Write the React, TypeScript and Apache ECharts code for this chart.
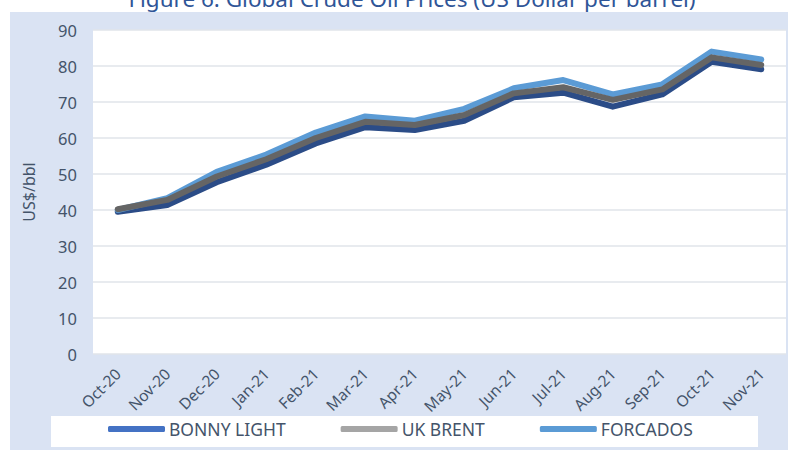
import React, { useEffect, useRef } from "react";
import * as echarts from "echarts";

const categories = ["Oct-20", "Nov-20", "Dec-20", "Jan-21", "Feb-21", "Mar-21", "Apr-21", "May-21", "Jun-21", "Jul-21", "Aug-21", "Sep-21", "Oct-21", "Nov-21"];
const bonnyLight = [39.5, 41.4, 47.7, 52.6, 58.5, 63.0, 62.2, 64.8, 71.3, 72.6, 68.7, 72.1, 81.2, 79.1];
const ukBrent = [40.2, 42.8, 49.3, 54.1, 60.0, 64.5, 63.6, 66.4, 72.4, 74.1, 70.6, 73.5, 82.4, 80.3];
const forcados = [40.0, 43.3, 50.6, 55.4, 61.5, 66.0, 64.8, 68.1, 73.8, 76.1, 72.1, 74.9, 84.0, 81.8];
const seriesNames = ["BONNY LIGHT", "UK BRENT", "FORCADOS"];
const yTicks = [0, 10, 20, 30, 40, 50, 60, 70, 80, 90];

const TXT = "#44546A";
const FONT = '"Noto Sans", sans-serif';

export default function App() {
  const ref = useRef<HTMLDivElement>(null);
  useEffect(() => {
    if (!ref.current) return;
    const chart = echarts.init(ref.current, null, { renderer: "svg" });
    const lineSeries = (name: string, data: number[], color: string, z: number) => ({
      name,
      type: "line",
      data,
      symbol: "none",
      z,
      lineStyle: { color, width: 6, cap: "round", join: "round" },
      itemStyle: { color },
    });
    chart.setOption({
      animation: false,
      graphic: [
        { type: "rect", z: -10, silent: true, shape: { x: 10, y: 12, width: 778, height: 438 }, style: { fill: "#DAE3F3" } },
        { type: "rect", z: -9, silent: true, shape: { x: 51, y: 416, width: 707, height: 31 }, style: { fill: "#FFFFFF" } },
        {
          type: "text",
          silent: true,
          style: {
            text: "Figure 6: Global Crude Oil Prices (US Dollar per barrel)",
            x: 412,
            y: 10,
            align: "center",
            verticalAlign: "bottom",
            font: '22.5px "Noto Sans", sans-serif',
            fill: "#2F5597",
          },
        },
      ],
      grid: {
        left: 93,
        right: 2,
        top: 30,
        bottom: 96,
        show: true,
        backgroundColor: "#FFFFFF",
        borderWidth: 0,
      },
      legend: {
        left: 108,
        top: 420,
        padding: 0,
        itemGap: 55,
        itemWidth: 57,
        itemHeight: 6,
        icon: "roundRect",
        textStyle: { color: TXT, fontSize: 17.5, fontFamily: FONT, padding: [0, 0, 0, -1] },
        data: [
          { name: seriesNames[0], itemStyle: { color: "#4472C4" } },
          { name: seriesNames[1], itemStyle: { color: "#A5A5A5" } },
          { name: seriesNames[2], itemStyle: { color: "#5B9BD5" } },
        ],
      },
      xAxis: {
        type: "category",
        data: categories,
        boundaryGap: true,
        axisLine: { show: false },
        axisTick: { show: false },
        axisLabel: { rotate: 45, margin: 17, color: TXT, fontSize: 15.5, fontFamily: FONT, interval: 0 },
      },
      yAxis: {
        type: "value",
        min: yTicks[0],
        max: yTicks[yTicks.length - 1],
        interval: 10,
        name: "US$/bbl",
        nameLocation: "middle",
        nameGap: 56,
        nameTextStyle: { color: TXT, fontSize: 16, fontFamily: FONT },
        axisLine: { show: false },
        axisTick: { show: false },
        axisLabel: { margin: 16, color: TXT, fontSize: 16.5, fontFamily: FONT },
        splitLine: { lineStyle: { color: "#E1E4EA", width: 1.5 } },
      },
      series: [
        lineSeries(seriesNames[0], bonnyLight, "#2B4C87", 2),
        lineSeries(seriesNames[2], forcados, "#5B9BD5", 3),
        lineSeries(seriesNames[1], ukBrent, "#656565", 4),
      ],
    });
    return () => chart.dispose();
  }, []);
  return (
    <div
      ref={ref}
      style={{ position: "absolute", left: 0, top: 0, width: 788, height: 450, background: "#FFFFFF" }}
    />
  );
}
